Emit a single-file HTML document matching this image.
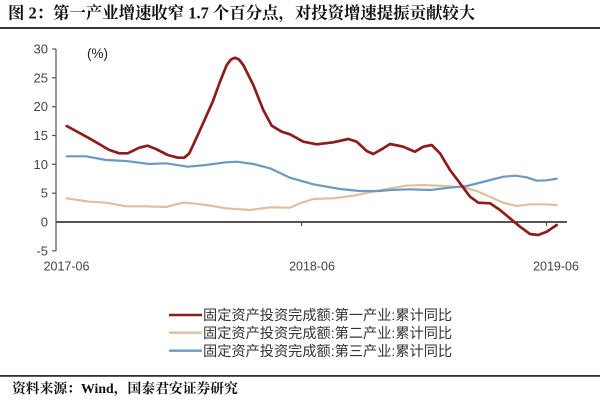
<!DOCTYPE html>
<html><head><meta charset="utf-8"><style>
html,body{margin:0;padding:0;background:#fff;}
svg{display:block;}
</style></head><body>
<svg width="600" height="400" viewBox="0 0 600 400" xmlns="http://www.w3.org/2000/svg">
<rect x="0" y="0" width="600" height="400" fill="#fff"/>
<text x="8" y="18.5" font-family="'Liberation Serif','Noto Serif CJK SC',serif" font-weight="bold" font-size="16.4" fill="#111">图 2：第一产业增速收窄 1.7 个百分点，对投资增速提振贡献较大</text>
<rect x="0" y="27" width="600" height="2" fill="#333"/>

<!-- y axis -->
<line x1="56" y1="49" x2="56" y2="251" stroke="#555" stroke-width="1.2"/>
<g stroke="#555" stroke-width="1.2">
<line x1="52" y1="49" x2="56" y2="49"/>
<line x1="52" y1="77.8" x2="56" y2="77.8"/>
<line x1="52" y1="106.7" x2="56" y2="106.7"/>
<line x1="52" y1="135.5" x2="56" y2="135.5"/>
<line x1="52" y1="164.3" x2="56" y2="164.3"/>
<line x1="52" y1="193.2" x2="56" y2="193.2"/>
<line x1="52" y1="250.8" x2="56" y2="250.8"/>
<line x1="301.5" y1="222" x2="301.5" y2="226" />
<line x1="546.5" y1="222" x2="546.5" y2="226" />
</g>
<g font-family="'Liberation Sans',sans-serif" font-size="13" fill="#444" text-anchor="end">
<text x="48" y="53.5">30</text>
<text x="48" y="82.3">25</text>
<text x="48" y="111.2">20</text>
<text x="48" y="140">15</text>
<text x="48" y="168.8">10</text>
<text x="48" y="197.7">5</text>
<text x="48" y="226.5">0</text>
<text x="48" y="255.3">-5</text>
</g>
<text x="87" y="58" font-family="'Liberation Sans',sans-serif" font-size="13.5" fill="#222">(%)</text>
<g font-family="'Liberation Sans',sans-serif" font-size="12.5" fill="#444" text-anchor="middle">
<text x="66.5" y="270.5">2017-06</text>
<text x="312" y="270.5">2018-06</text>
<text x="556" y="270.5">2019-06</text>
</g>

<!-- series -->
<polyline fill="none" stroke="#dfbf9f" stroke-width="2.2" stroke-linejoin="round" stroke-linecap="round" points="66.7,198.3 89.3,201.7 106,202.7 126,206.3 146,206.3 166,207 182.7,202.7 196,203.7 212.7,206 226,208.3 233.3,208.8 250,210 270,207.3 290,207.7 300,203.3 313.3,199 333.3,198.3 353.3,195.7 370,192.3 390,188.3 406.7,185.7 423.3,185 443.3,186 463.3,187.3 476.7,191 490,196.7 503.3,202.7 516.7,206 530,204.3 543.3,204.3 556.7,205"/>
<polyline fill="none" stroke="#6b99c3" stroke-width="2.2" stroke-linejoin="round" stroke-linecap="round" points="66.7,156.3 86,156.3 106,160 126,161 149.3,164 166,163.3 187.7,166.7 206,165 226,162.3 236.7,161.7 253.3,164 270,168.3 290,177.7 313.3,184.3 340,189 360,191 380,191 390,190 410,189.3 430,190 450,187.7 466.7,186 486.7,181 503.3,176.7 515,175.7 526.7,177.3 536.7,180.7 546.7,180.3 556.7,178.7"/>

<line x1="56" y1="222" x2="567" y2="222" stroke="#555" stroke-width="2"/>

<polyline fill="none" stroke="#8c1d1d" stroke-width="2.7" stroke-linejoin="round" stroke-linecap="round" points="66.7,126 89.3,138.3 109.3,150 119.3,153.3 127.7,153.3 139.3,147.7 147.7,145.7 156,149 167.7,155 177.7,157.7 184.3,157.7 189.3,153.3 199.3,131.7 212.7,101.7 220,81.7 226.7,65 231,59.5 235,57.7 239,59.5 243.3,65 253.3,85 263.3,110 271.7,125.7 281.7,131.7 290,134.3 303.3,141.7 316.7,144.3 333.3,142.3 348.3,139 356.7,141.7 366.7,151 373.3,154 383.3,148.3 390,144 403.3,146.7 415,151.7 423.3,146.7 431.7,145 440,153.3 450,170 460,183.3 470,196.7 478.3,202.7 490,203.3 500,210 510,218.3 520,226.7 530,234 538.3,235 546.7,231.7 556.7,225"/>

<!-- legend -->
<g stroke-width="2.4">
<line x1="169" y1="315" x2="202" y2="315" stroke="#8c1d1d"/>
<line x1="169" y1="332.7" x2="202" y2="332.7" stroke="#dfbf9f"/>
<line x1="169" y1="350.7" x2="202" y2="350.7" stroke="#6b99c3"/>
</g>
<g font-family="'Liberation Sans','Noto Sans CJK SC',sans-serif" font-size="14.2" fill="#333">
<text x="203" y="320.1">固定资产投资完成额:第一产业:累计同比</text>
<text x="203" y="337.8">固定资产投资完成额:第二产业:累计同比</text>
<text x="203" y="355.8">固定资产投资完成额:第三产业:累计同比</text>
</g>

<rect x="0" y="375" width="600" height="1.8" fill="#333"/>
<text x="12" y="393" font-family="'Liberation Serif','Noto Serif CJK SC',serif" font-weight="bold" font-size="13.8" fill="#111">资料来源：Wind，国泰君安证券研究</text>
</svg>
</body></html>
